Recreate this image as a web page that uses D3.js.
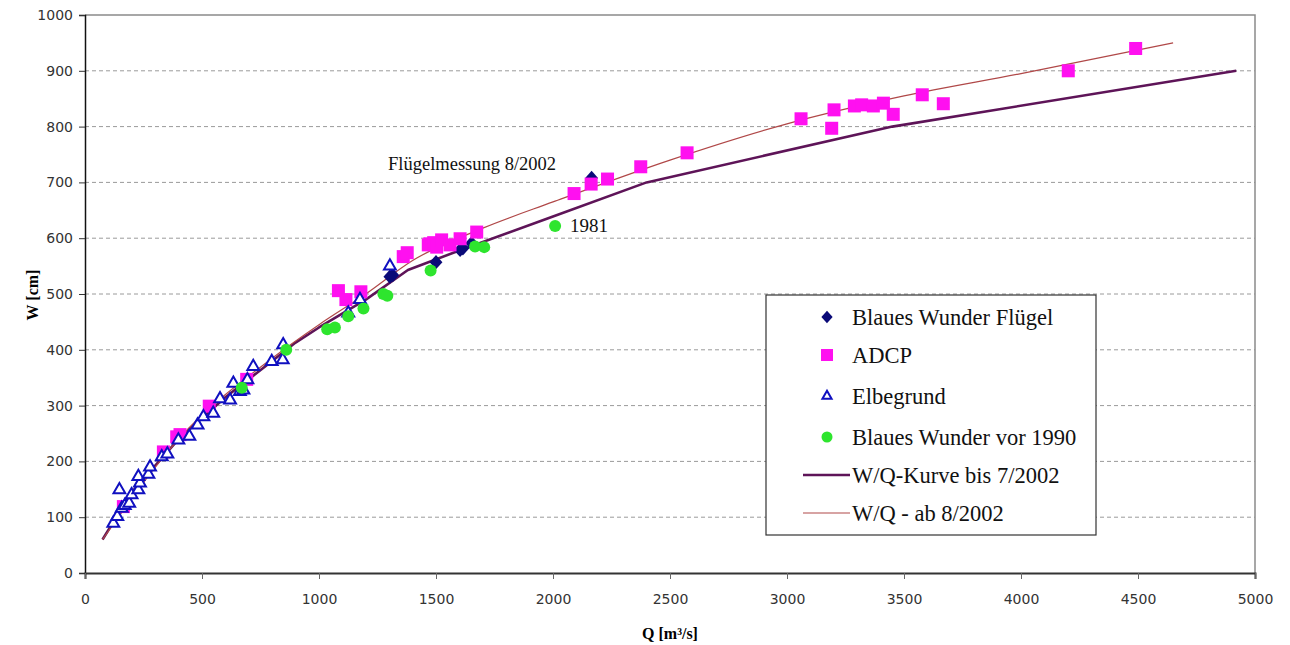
<!DOCTYPE html>
<html>
<head>
<meta charset="utf-8">
<script src="https://cdn.jsdelivr.net/npm/d3@7"></script>
<style>
  html, body { margin: 0; padding: 0; background: #fff; }
  svg { display: block; }
</style>
</head>
<body>
<svg id="chart" width="1290" height="645"></svg>
<script>
// Abfluss Q [m³/s] gegen Wasserstand W [cm]
const xTicks = [0, 500, 1000, 1500, 2000, 2500, 3000, 3500, 4000, 4500, 5000];
const yTicks = [0, 100, 200, 300, 400, 500, 600, 700, 800, 900, 1000];

// Blaues Wunder Flügel [Q, W]
const fluegel = [[1303, 531], [1315, 534], [1500, 557], [1615, 582], [1603, 579], [1652, 591], [2165, 708]];

// ADCP [Q, W]
const adcp = [
  [164, 119], [335, 217], [392, 244], [406, 248], [531, 299], [691, 347],
  [1083, 506], [1115, 490], [1179, 504], [1360, 567], [1377, 574],
  [1467, 588], [1474, 590], [1490, 592], [1503, 584], [1524, 597], [1560, 588],
  [1603, 599], [1674, 611], [2090, 680], [2163, 697], [2233, 706], [2375, 728],
  [2573, 753], [3060, 814], [3191, 797], [3201, 830], [3288, 837], [3319, 839],
  [3369, 837], [3412, 842], [3454, 822], [3578, 857], [3668, 841], [4202, 900], [4490, 940]
];

// Elbegrund [Q, W]
const elbegrund = [
  [121, 89], [138, 101], [147, 149], [157, 116], [170, 121], [189, 125], [199, 140],
  [228, 149], [235, 161], [228, 173], [271, 177], [278, 190], [328, 208], [352, 213],
  [399, 238], [446, 245], [481, 265], [506, 280], [548, 286], [577, 312], [620, 310],
  [634, 340], [662, 325], [677, 328], [694, 346], [719, 370], [798, 379], [845, 382],
  [847, 409], [1125, 466], [1175, 490], [1303, 550]
];

// Blaues Wunder vor 1990 [Q, W]
const vor1990 = [
  [670, 332], [860, 400], [1035, 437], [1068, 440], [1125, 460], [1190, 474],
  [1275, 500], [1292, 497], [1477, 542], [1667, 585], [1706, 584], [2009, 622]
];

// W/Q-Kurve bis 7/2002
const kurveAlt = [
  [75, 60], [200, 145], [400, 240], [600, 315], [800, 380], [900, 413], [1000, 440],
  [1200, 490], [1380, 543], [1600, 578], [2000, 639], [2400, 700], [3450, 800], [4920, 900]
];

// W/Q - ab 8/2002
const kurveNeu = [
  [75, 60], [400, 240], [800, 385], [1000, 445], [1200, 500], [1400, 560], [1700, 618],
  [2000, 665], [2500, 740], [3000, 805], [3500, 855], [4000, 895], [4650, 950]
];

const legendLabels = ["Blaues Wunder Flügel", "ADCP", "Elbegrund", "Blaues Wunder vor 1990",
                      "W/Q-Kurve bis 7/2002", "W/Q - ab 8/2002"];

const svg = d3.select("#chart");
const plot = { left: 85, right: 1255, top: 15, bottom: 573 };

const x = d3.scaleLinear().domain([0, 5000]).range([plot.left, plot.right]);
const y = d3.scaleLinear().domain([0, 1000]).range([plot.bottom, plot.top]);

const colNavy = "#0a0a78", colMag = "#ff10f0", colBlue = "#1010c0", colGreen = "#2ee52e";
const colAlt = "#5e1458", colNeu = "#b04848";

// Gitterlinien
svg.append("g").selectAll("line")
  .data(yTicks.filter(d => d > 0 && d < 1000))
  .join("line")
  .attr("x1", plot.left).attr("x2", plot.right)
  .attr("y1", d => y(d)).attr("y2", d => y(d))
  .attr("stroke", "#9a9a9a").attr("stroke-width", 1)
  .attr("stroke-dasharray", "4,3");

// Rahmen oben und rechts
svg.append("path")
  .attr("d", `M${plot.left},${plot.top}H${plot.right}V${plot.bottom}`)
  .attr("fill", "none").attr("stroke", "#8a8a8a").attr("stroke-width", 1.5);

// Achsen
const fmt = d3.format("d");
const yAxis = d3.axisLeft(y).tickValues(yTicks).tickFormat(fmt).tickSize(6).tickPadding(6);
const gy = svg.append("g").attr("transform", `translate(${plot.left},0)`).call(yAxis);
gy.select(".domain").attr("stroke", "#111").attr("stroke-width", 1.5);
gy.selectAll(".tick line").attr("stroke", "#333");
gy.selectAll("text").attr("font-family", "DejaVu Sans").attr("font-size", 14).attr("fill", "#333");

const xAxis = d3.axisBottom(x).tickValues(xTicks).tickFormat(fmt).tickSize(6).tickPadding(15);
const gx = svg.append("g").attr("transform", `translate(0,${plot.bottom})`).call(xAxis);
gx.select(".domain").attr("stroke", "#333").attr("stroke-width", 2);
gx.selectAll(".tick line").attr("stroke", "#666");
gx.selectAll("text").attr("font-family", "DejaVu Sans").attr("font-size", 14).attr("fill", "#333");

// Achsentitel
svg.append("text")
  .attr("transform", `translate(38,295) rotate(-90)`)
  .attr("text-anchor", "middle")
  .attr("font-family", "Liberation Serif").attr("font-weight", "bold").attr("font-size", 16)
  .text("W [cm]");
svg.append("text")
  .attr("x", 670).attr("y", 639)
  .attr("text-anchor", "middle")
  .attr("font-family", "Liberation Serif").attr("font-weight", "bold").attr("font-size", 16)
  .text("Q [m³/s]");

// Kurven
const lineAlt = d3.line().x(d => x(d[0])).y(d => y(d[1])).curve(d3.curveLinear);
const lineNeu = d3.line().x(d => x(d[0])).y(d => y(d[1])).curve(d3.curveMonotoneX);
svg.append("path").datum(kurveAlt).attr("d", lineAlt)
  .attr("fill", "none").attr("stroke", colAlt).attr("stroke-width", 2.6)
  .attr("stroke-linejoin", "round");
svg.append("path").datum(kurveNeu).attr("d", lineNeu)
  .attr("fill", "none").attr("stroke", colNeu).attr("stroke-width", 1.2);

// Messpunkte
const sym = (type, size) => d3.symbol().type(type).size(size);

svg.append("g").selectAll("path").data(fluegel).join("path")
  .attr("transform", d => `translate(${x(d[0])},${y(d[1])}) scale(0.9,1)`)
  .attr("d", sym(d3.symbolDiamond2, 130)).attr("fill", colNavy);

svg.append("g").selectAll("rect").data(adcp).join("rect")
  .attr("x", d => x(d[0]) - 6.5).attr("y", d => y(d[1]) - 6.5)
  .attr("width", 13).attr("height", 13).attr("fill", colMag);

svg.append("g").selectAll("path").data(elbegrund).join("path")
  .attr("transform", d => `translate(${x(d[0])},${y(d[1])})`)
  .attr("d", sym(d3.symbolTriangle2, 100))
  .attr("fill", "#fff").attr("stroke", colBlue).attr("stroke-width", 2);

svg.append("g").selectAll("circle").data(vor1990).join("circle")
  .attr("cx", d => x(d[0])).attr("cy", d => y(d[1])).attr("r", 6)
  .attr("fill", colGreen);

// Beschriftungen
svg.append("text").attr("x", 388).attr("y", 170)
  .attr("font-family", "Liberation Serif").attr("font-size", 18.5).attr("fill", "#111")
  .text("Flügelmessung 8/2002");
svg.append("text").attr("x", 570).attr("y", 232)
  .attr("font-family", "Liberation Serif").attr("font-size", 19).attr("fill", "#111")
  .text("1981");

// Legende
const lg = svg.append("g");
lg.append("rect").attr("x", 766).attr("y", 295).attr("width", 330).attr("height", 240)
  .attr("fill", "#fff").attr("stroke", "#333").attr("stroke-width", 1.2);
const rowY = [317, 355, 396, 437, 475, 513];
const textX = 852, symX = 827;
legendLabels.forEach((t, i) => {
  lg.append("text").attr("x", textX).attr("y", rowY[i] + 8)
    .attr("font-family", "Liberation Serif").attr("font-size", 22.5).attr("fill", "#111")
    .text(t);
});
lg.append("path").attr("transform", `translate(${symX},${rowY[0]}) scale(0.9,1)`)
  .attr("d", sym(d3.symbolDiamond2, 100)).attr("fill", colNavy);
lg.append("rect").attr("x", symX - 6).attr("y", rowY[1] - 6).attr("width", 12).attr("height", 12).attr("fill", colMag);
lg.append("path").attr("transform", `translate(${symX},${rowY[2]})`)
  .attr("d", sym(d3.symbolTriangle2, 60)).attr("fill", "#fff").attr("stroke", colBlue).attr("stroke-width", 2);
lg.append("circle").attr("cx", symX).attr("cy", rowY[3]).attr("r", 5.5).attr("fill", colGreen);
lg.append("line").attr("x1", 803).attr("x2", 850).attr("y1", rowY[4]).attr("y2", rowY[4])
  .attr("stroke", colAlt).attr("stroke-width", 2.6);
lg.append("line").attr("x1", 803).attr("x2", 850).attr("y1", rowY[5]).attr("y2", rowY[5])
  .attr("stroke", colNeu).attr("stroke-width", 1.2);
</script>
</body>
</html>
